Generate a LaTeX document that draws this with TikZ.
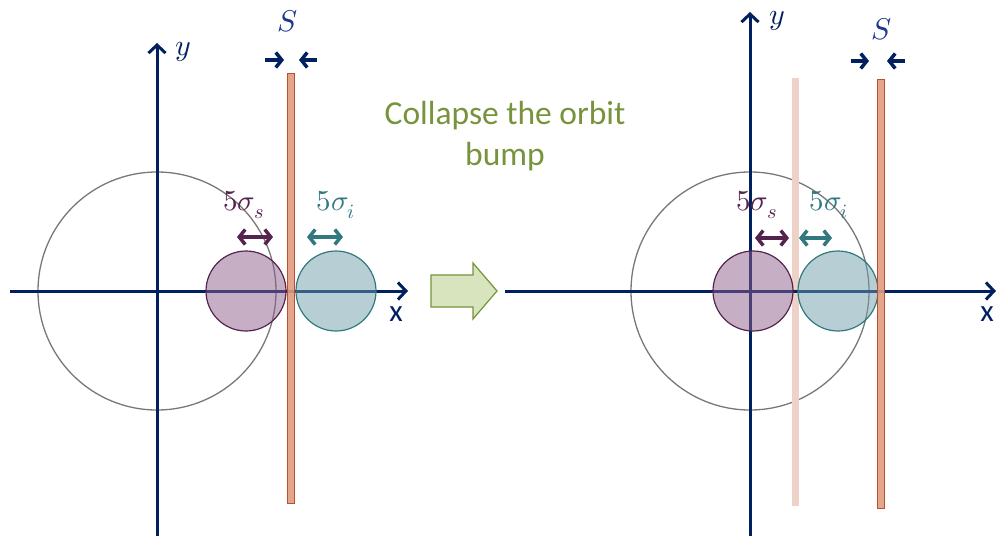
\documentclass[tikz,border=0pt]{standalone}
\usepackage{fontspec}
\usepackage{unicode-math}
\setmainfont{Carlito}
\setmathfont{Latin Modern Math}
\usetikzlibrary{arrows.meta}
\definecolor{navy}{RGB}{0,32,96}
\definecolor{slabel}{RGB}{31,56,140}
\definecolor{purpc}{RGB}{85,35,80}
\definecolor{purpfill}{RGB}{142,95,140}
\definecolor{tealc}{RGB}{49,120,127}
\definecolor{tealfill}{RGB}{111,159,170}
\definecolor{barfill}{RGB}{224,156,128}
\definecolor{bardraw}{RGB}{184,80,48}
\definecolor{fadebar}{RGB}{238,210,200}
\definecolor{grn}{RGB}{119,147,60}
\definecolor{grnfill}{RGB}{215,228,189}
\definecolor{ringc}{RGB}{120,120,120}
\begin{document}
\begin{tikzpicture}[x=1pt,y=-1pt,
  axisline/.style={draw=navy, line width=3pt, -{Straight Barb[length=8pt,width=17pt,line width=3pt]}},
  ring/.style={circle, draw=ringc, line width=1.3pt, minimum size=238pt, inner sep=0pt},
  beamS/.style={circle, draw=purpc, line width=1.2pt, fill=purpfill, fill opacity=0.5, minimum size=80pt, inner sep=0pt},
  beamI/.style={circle, draw=tealc, line width=1.2pt, fill=tealfill, fill opacity=0.5, minimum size=80pt, inner sep=0pt},
  septum/.style={rectangle, draw=bardraw, line width=1pt, fill=barfill, fill opacity=0.9, minimum width=7pt, inner sep=0pt},
  ghost/.style={rectangle, fill=fadebar, minimum width=7pt, inner sep=0pt},
  tipb/.tip={Straight Barb[length=6pt,width=15pt,line width=3.5pt]},
  sarrow/.style={draw=navy, line width=3.5pt, -tipb},
  widthS/.style={draw=purpc, line width=3.5pt, tipb-tipb},
  widthI/.style={draw=tealc, line width=3.5pt, tipb-tipb},
  mathlbl/.style={font=\fontsize{30}{34}\selectfont},
  siglbl/.style={font=\fontsize{29}{34}\selectfont},
  xlbl/.style={text=navy, font=\fontsize{31}{34}\selectfont},
]
\useasboundingbox (0,0) rectangle (996,536);

% ---------- left panel ----------
\coordinate (LxS) at (10,291);
\coordinate (LxE) at (408,291);
\coordinate (LyS) at (157,536);
\coordinate (LyE) at (157,43);
\node[ring] (ringL) at (157,291) {};
\draw[axisline] (LxS) -- (LxE);
\draw[axisline] (LyS) -- (LyE);
\node[beamS] (bsL) at (246,291) {};
\node[beamI] (biL) at (336,291) {};
\node[septum, minimum height=430pt] (barL) at (290.5,288) {};
\node[xlbl] (xL) at (396,314) {x};
\node[mathlbl, text=navy] (yL) at (183,52) {$y$};
\node[mathlbl, text=slabel] (SL) at (288,21) {$S$};
\coordinate (SLa1) at (265,60); \coordinate (SLa2) at (284,60);
\coordinate (SLb1) at (317,60); \coordinate (SLb2) at (299,60);
\draw[sarrow] (SLa1) -- (SLa2);
\draw[sarrow] (SLb1) -- (SLb2);
\node[siglbl, text=purpc] (sigSL) at (244,205) {$5\sigma_s$};
\node[siglbl, text=tealc] (sigIL) at (336,205) {$5\sigma_i$};
\coordinate (wSL1) at (237,237); \coordinate (wSL2) at (273,237);
\coordinate (wIL1) at (307,237); \coordinate (wIL2) at (343,237);
\draw[widthS] (wSL1) -- (wSL2);
\draw[widthI] (wIL1) -- (wIL2);

% ---------- middle ----------
\node[text=grn, font=\fontsize{33.5}{41}\selectfont, align=center] (title) at (505,136) {Collapse the orbit\\bump};
\draw[draw=grn, fill=grnfill, line width=1.2pt] (431,275) -- (473,275) -- (473,263) -- (497,291) -- (473,319) -- (473,307) -- (431,307) -- cycle;

% ---------- right panel ----------
\coordinate (RxS) at (505,291);
\coordinate (RxE) at (996,291);
\coordinate (RyS) at (750,536);
\coordinate (RyE) at (750,12);
\node[ring] (ringR) at (750,291) {};
\node[ghost, minimum height=428pt] (barG) at (795.5,292) {};
\draw[axisline] (RxS) -- (RxE);
\draw[axisline] (RyS) -- (RyE);
\node[beamS] (bsR) at (753,291) {};
\node[beamI] (biR) at (838,291) {};
\node[septum, minimum height=429pt] (barR) at (880.5,293.5) {};
\node[xlbl] (xR) at (987,314) {x};
\node[mathlbl, text=navy] (yR) at (777,21) {$y$};
\node[mathlbl, text=slabel] (SR) at (882,29) {$S$};
\coordinate (SRa1) at (851,61); \coordinate (SRa2) at (869,61);
\coordinate (SRb1) at (905,61); \coordinate (SRb2) at (887,61);
\draw[sarrow] (SRa1) -- (SRa2);
\draw[sarrow] (SRb1) -- (SRb2);
\node[siglbl, text=purpc] (sigSR) at (757,205) {$5\sigma_s$};
\node[siglbl, text=tealc] (sigIR) at (829,205) {$5\sigma_i$};
\coordinate (wSR1) at (755,238); \coordinate (wSR2) at (789,238);
\coordinate (wIR1) at (799,238); \coordinate (wIR2) at (832,238);
\draw[widthS] (wSR1) -- (wSR2);
\draw[widthI] (wIR1) -- (wIR2);
\end{tikzpicture}
\end{document}
